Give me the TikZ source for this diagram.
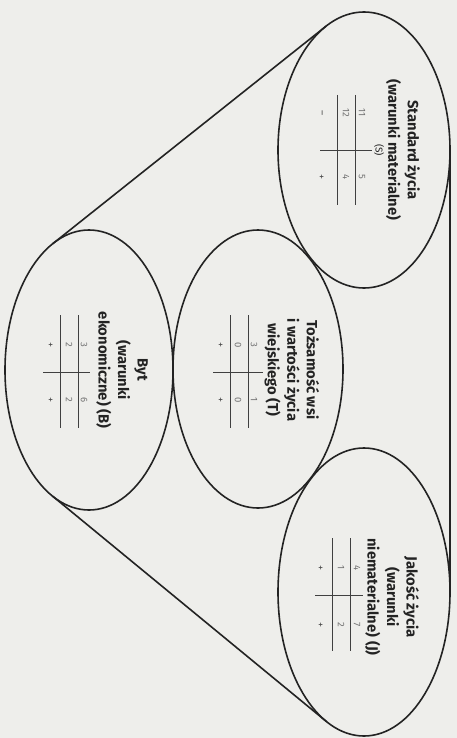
\documentclass[tikz,border=0pt]{standalone}
\usepackage{fontspec}
\setmainfont{Fira Sans}
\usetikzlibrary{shapes.geometric}
\definecolor{bgc}{RGB}{238,238,235}
\definecolor{ink}{RGB}{35,35,35}
\begin{document}
\begin{tikzpicture}[x=1pt,y=-1pt,
  ell/.style={ellipse, draw=ink, line width=1.6pt, inner sep=0pt, outer sep=0pt},
  ttl/.style={rotate=-90, align=center, font=\fontsize{14.8}{19.5}\selectfont\bfseries, text=ink, inner sep=0pt},
  num/.style={rotate=-90, font=\fontsize{9.5}{10}\selectfont, text=black!55, inner sep=0pt},
  sgn/.style={rotate=-90, font=\fontsize{10}{11}\selectfont, text=black!70, inner sep=0pt},
  rulel/.style={draw=black!75, line width=0.8pt},
  tang/.style={draw=ink, line width=1.6pt}]
\fill[bgc] (0,0) rectangle (457,738);
\useasboundingbox (0,0) rectangle (457,738);

% ellipses
\node[ell, minimum width=172pt, minimum height=276pt] (S) at (364,150) {};
\node[ell, minimum width=170pt, minimum height=278pt] (T) at (258,369) {};
\node[ell, minimum width=168pt, minimum height=280pt] (B) at (89,370) {};
\node[ell, minimum width=172pt, minimum height=288pt] (J) at (364,592) {};

% tangent lines
\draw[tang] (S.107.2) -- (B.106.0);
\draw[tang] (B.-106.6) -- (J.-106.4);
\draw[tang] (S.0) -- (J.0);

% titles
\node[ttl] (tS) at (403,150) {Standard życia\\(warunki materialne)};
\node[sgn, text=ink] (lS) at (379,150) {(S)};
\node[ttl] (tT) at (292,370) {Tożsamość wsi\\i wartości życia\\wiejskiego (T)};
\node[ttl] (tB) at (122,370) {Byt\\(warunki\\ekonomiczne) (B)};
\node[ttl] (tJ) at (392,597) {Jakość życia\\(warunki\\niematerialne) (J)};

% table S
\draw[rulel] (355,95) -- (355,205);
\draw[rulel] (337,95) -- (337,205);
\draw[rulel] (320,150) -- (372,150);
\node[num] (s1) at (362,113) {11};
\node[num] (s2) at (346,113) {12};
\node[sgn] (s3) at (321,113) {–};
\node[num] (s4) at (362,177) {5};
\node[num] (s5) at (346,177) {4};
\node[sgn] (s6) at (321,177) {+};

% table T
\draw[rulel] (248,315) -- (248,428);
\draw[rulel] (230,315) -- (230,428);
\draw[rulel] (213,372) -- (263,372);
\node[num] (t1) at (254,345) {3};
\node[num] (t2) at (238,345) {0};
\node[sgn] (t3) at (220,345) {+};
\node[num] (t4) at (254,400) {1};
\node[num] (t5) at (238,400) {0};
\node[sgn] (t6) at (220,400) {+};

% table B
\draw[rulel] (78,315) -- (78,428);
\draw[rulel] (60,315) -- (60,428);
\draw[rulel] (43,372) -- (90,372);
\node[num] (b1) at (84,345) {3};
\node[num] (b2) at (69,345) {2};
\node[sgn] (b3) at (50,345) {+};
\node[num] (b4) at (84,400) {6};
\node[num] (b5) at (69,400) {2};
\node[sgn] (b6) at (50,400) {+};

% table J
\draw[rulel] (350,538) -- (350,651);
\draw[rulel] (332,538) -- (332,651);
\draw[rulel] (315,595) -- (363,595);
\node[num] (j1) at (357,568) {4};
\node[num] (j2) at (341,568) {1};
\node[sgn] (j3) at (320,568) {+};
\node[num] (j4) at (357,625) {7};
\node[num] (j5) at (341,625) {2};
\node[sgn] (j6) at (320,625) {+};
\end{tikzpicture}
\end{document}
